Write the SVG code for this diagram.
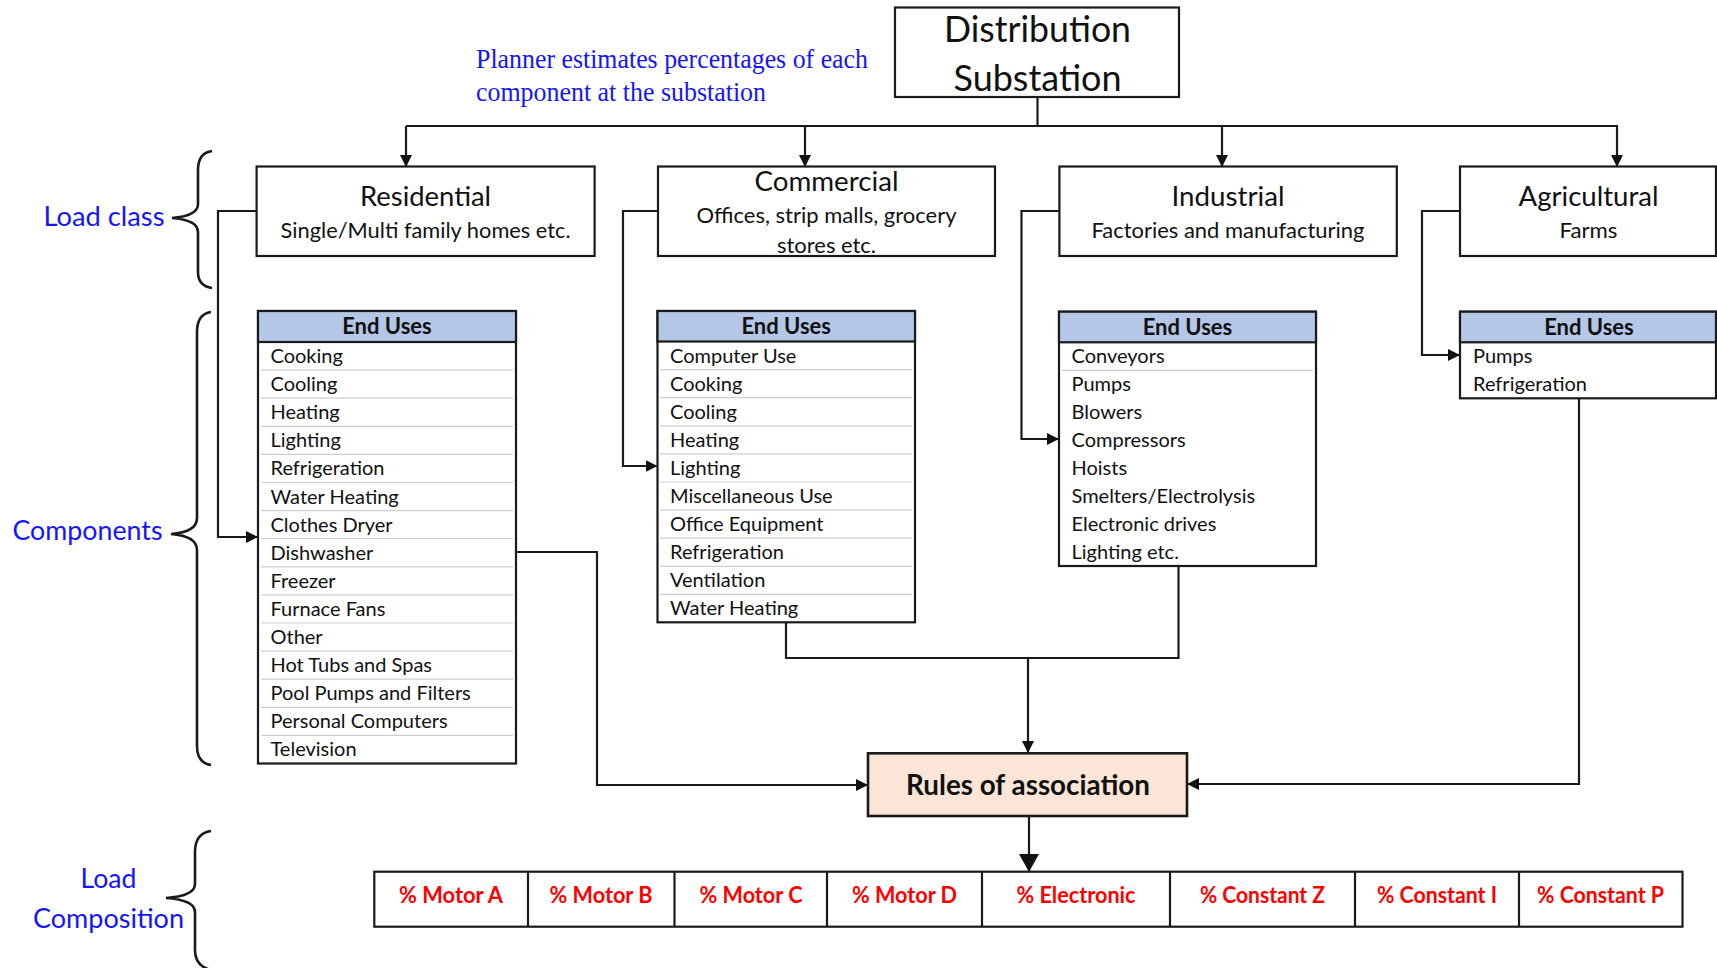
<svg xmlns="http://www.w3.org/2000/svg" width="1717" height="968" viewBox="0 0 1717 968">
<defs>
<style>
.box{fill:#fff;stroke:#1a1a1a;stroke-width:2.2}
.hdr{fill:#b4c7e7;stroke:#1a1a1a;stroke-width:2.2}
.sep{stroke:#cfcfcf;stroke-width:1.2}
.ln{fill:none;stroke:#1a1a1a;stroke-width:2.2}
.brace{fill:none;stroke:#1a1a1a;stroke-width:2.6}
.t{font-family:Lato,"Liberation Sans",sans-serif;fill:#111}
.title{font-size:27px;text-anchor:middle}
.sub{font-size:21px;text-anchor:middle}
.item{font-size:20px}
.head{font-size:22px;font-weight:bold;text-anchor:middle}
.blue{font-family:Lato,"Liberation Sans",sans-serif;fill:#1414ff;font-size:26px}
.red{font-family:Lato,"Liberation Sans",sans-serif;fill:#ff0000;font-size:22px;font-weight:bold;text-anchor:middle}
.serif{font-family:"Liberation Serif",serif;fill:#1414ff;font-size:27px}
</style>
<marker id="arr" markerUnits="userSpaceOnUse" markerWidth="12" markerHeight="12" refX="11" refY="6" orient="auto">
<path d="M0,0 L12,6 L0,12 z" fill="#111"/>
</marker>
<marker id="arrBig" markerUnits="userSpaceOnUse" markerWidth="18" markerHeight="20" refX="17" refY="10" orient="auto">
<path d="M0,0 L18,10 L0,20 z" fill="#111"/>
</marker>
</defs>
<rect width="1717" height="968" fill="#fff"/>

<g id="connectors">
<path class="ln" d="M1037.5,97 V126" stroke-width="2.6"/>
<path class="ln" d="M406,126 H1618" stroke-width="3"/>
<path class="ln" d="M406,126 V166" marker-end="url(#arr)"/>
<path class="ln" d="M805,126 V166" marker-end="url(#arr)"/>
<path class="ln" d="M1222,126 V166" marker-end="url(#arr)"/>
<path class="ln" d="M1617,126 V166" marker-end="url(#arr)"/>
<path class="ln" d="M256.6,211 H218 V537 H257" marker-end="url(#arr)"/>
<path class="ln" d="M658,211 H623 V466 H656.5" marker-end="url(#arr)"/>
<path class="ln" d="M1059,211 H1021.5 V439 H1058" marker-end="url(#arr)"/>
<path class="ln" d="M1460,211 H1422 V355 H1459" marker-end="url(#arr)"/>
<path class="ln" d="M516,552 H597 V785 H867" marker-end="url(#arr)"/>
<path class="ln" d="M786,622 V658 H1178.5 V566"/>
<path class="ln" d="M1028,658 V752" marker-end="url(#arr)"/>
<path class="ln" d="M1579,398 V784 H1188" marker-end="url(#arr)"/>
<path class="ln" d="M1029,816 V871" stroke-width="4.5" marker-end="url(#arrBig)"/>
</g>

<g id="braces">
<path class="brace" d="M212,151 Q198,153 198,170 V204 Q198,216 172,218 Q198,220 198,232 V272 Q198,286 212,288"/>
<path class="brace" d="M211,312 Q197,314 197,332 V518 Q197,532 171,534 Q197,536 197,550 V746 Q197,763 211,765"/>
<path class="brace" d="M211,831 Q195,833 195,852 V884 Q195,896 166,898 Q195,900 195,912 V950 Q195,966 211,970"/>
</g>

<g id="labels">
<text class="serif" x="476" y="68" textLength="392" lengthAdjust="spacingAndGlyphs">Planner estimates percentages of each</text>
<text class="serif" x="476" y="101" textLength="290" lengthAdjust="spacingAndGlyphs">component at the substation</text>
<text class="blue" x="43.5" y="226" textLength="121" lengthAdjust="spacingAndGlyphs">Load class</text>
<text class="blue" x="12.5" y="540" textLength="150" lengthAdjust="spacingAndGlyphs">Components</text>
<text class="blue" x="108.5" y="888" text-anchor="middle" textLength="56" lengthAdjust="spacingAndGlyphs">Load</text>
<text class="blue" x="108.5" y="928" text-anchor="middle" textLength="151" lengthAdjust="spacingAndGlyphs">Composition</text>
</g>

<g id="substation">
<rect class="box" x="895" y="7.5" width="284" height="89.5" stroke-width="2.6"/>
<text class="t" x="1037.5" y="42" font-size="36" text-anchor="middle" textLength="187" lengthAdjust="spacingAndGlyphs">Distribution</text>
<text class="t" x="1037.5" y="91" font-size="36" text-anchor="middle" textLength="168" lengthAdjust="spacingAndGlyphs">Substation</text>
</g>

<g id="residential">
<rect class="box" x="256.6" y="166.5" width="338" height="89.5"/>
<text class="t title" x="425.6" y="205.5" textLength="131" lengthAdjust="spacingAndGlyphs">Residential</text>
<text class="t sub" x="425.6" y="238" textLength="290" lengthAdjust="spacingAndGlyphs">Single/Multi family homes etc.</text>
</g>
<g id="commercial">
<rect class="box" x="658" y="166.5" width="337" height="89.5"/>
<text class="t title" x="826.5" y="191" textLength="144" lengthAdjust="spacingAndGlyphs">Commercial</text>
<text class="t sub" x="826.5" y="223" textLength="260" lengthAdjust="spacingAndGlyphs">Offices, strip malls, grocery</text>
<text class="t sub" x="826.5" y="253" textLength="99" lengthAdjust="spacingAndGlyphs">stores etc.</text>
</g>
<g id="industrial">
<rect class="box" x="1059.4" y="166.5" width="337.4" height="89.5"/>
<text class="t title" x="1228" y="205.5" textLength="113" lengthAdjust="spacingAndGlyphs">Industrial</text>
<text class="t sub" x="1228" y="238" textLength="273" lengthAdjust="spacingAndGlyphs">Factories and manufacturing</text>
</g>
<g id="agricultural">
<rect class="box" x="1460" y="166.5" width="256" height="89.5"/>
<text class="t title" x="1588.5" y="205.5" textLength="140" lengthAdjust="spacingAndGlyphs">Agricultural</text>
<text class="t sub" x="1588.5" y="238" textLength="58" lengthAdjust="spacingAndGlyphs">Farms</text>
</g>

<g id="res-enduses">
<rect class="box" x="258" y="311" width="258" height="452.5"/>
<rect class="hdr" x="258" y="311" width="258" height="31"/>
<text class="t head" x="387" y="334">End Uses</text>
<g class="sep">
<line x1="261" x2="513" y1="370.1" y2="370.1"/><line x1="261" x2="513" y1="398.2" y2="398.2"/>
<line x1="261" x2="513" y1="426.3" y2="426.3"/><line x1="261" x2="513" y1="454.4" y2="454.4"/>
<line x1="261" x2="513" y1="482.5" y2="482.5"/><line x1="261" x2="513" y1="510.6" y2="510.6"/>
<line x1="261" x2="513" y1="538.7" y2="538.7"/><line x1="261" x2="513" y1="566.8" y2="566.8"/>
<line x1="261" x2="513" y1="594.9" y2="594.9"/><line x1="261" x2="513" y1="623" y2="623"/>
<line x1="261" x2="513" y1="651.1" y2="651.1"/><line x1="261" x2="513" y1="679.2" y2="679.2"/>
<line x1="261" x2="513" y1="707.3" y2="707.3"/><line x1="261" x2="513" y1="735.4" y2="735.4"/>
</g>
<g class="t item">
<text x="270.5" y="363">Cooking</text>
<text x="270.5" y="391.1">Cooling</text>
<text x="270.5" y="419.2">Heating</text>
<text x="270.5" y="447.3">Lighting</text>
<text x="270.5" y="475.4">Refrigeration</text>
<text x="270.5" y="503.5">Water Heating</text>
<text x="270.5" y="531.6">Clothes Dryer</text>
<text x="270.5" y="559.7">Dishwasher</text>
<text x="270.5" y="587.8">Freezer</text>
<text x="270.5" y="615.9">Furnace Fans</text>
<text x="270.5" y="644">Other</text>
<text x="270.5" y="672.1">Hot Tubs and Spas</text>
<text x="270.5" y="700.2">Pool Pumps and Filters</text>
<text x="270.5" y="728.3">Personal Computers</text>
<text x="270.5" y="756.4">Television</text>
</g>
</g>

<g id="com-enduses">
<rect class="box" x="657.5" y="311" width="257.5" height="311.3"/>
<rect class="hdr" x="657.5" y="311" width="257.5" height="30.5"/>
<text class="t head" x="786.2" y="334">End Uses</text>
<g class="sep">
<line x1="660" x2="912" y1="369.6" y2="369.6"/><line x1="660" x2="912" y1="397.7" y2="397.7"/>
<line x1="660" x2="912" y1="425.8" y2="425.8"/><line x1="660" x2="912" y1="453.9" y2="453.9"/>
<line x1="660" x2="912" y1="482" y2="482"/><line x1="660" x2="912" y1="510.1" y2="510.1"/>
<line x1="660" x2="912" y1="538.2" y2="538.2"/><line x1="660" x2="912" y1="566.3" y2="566.3"/>
<line x1="660" x2="912" y1="594.4" y2="594.4"/>
</g>
<g class="t item">
<text x="670" y="362.5">Computer Use</text>
<text x="670" y="390.6">Cooking</text>
<text x="670" y="418.7">Cooling</text>
<text x="670" y="446.8">Heating</text>
<text x="670" y="474.9">Lighting</text>
<text x="670" y="503">Miscellaneous Use</text>
<text x="670" y="531.1">Office Equipment</text>
<text x="670" y="559.2">Refrigeration</text>
<text x="670" y="587.3">Ventilation</text>
<text x="670" y="615.4">Water Heating</text>
</g>
</g>

<g id="ind-enduses">
<rect class="box" x="1059" y="311.7" width="257" height="254.3"/>
<rect class="hdr" x="1059" y="311.7" width="257" height="30.6"/>
<text class="t head" x="1187.5" y="335">End Uses</text>
<line class="sep" x1="1062" x2="1313" y1="370.3" y2="370.3" stroke="#e6e6e6"/>
<g class="t item">
<text x="1071.5" y="363.3">Conveyors</text>
<text x="1071.5" y="391.3">Pumps</text>
<text x="1071.5" y="419.3">Blowers</text>
<text x="1071.5" y="447.3">Compressors</text>
<text x="1071.5" y="475.3">Hoists</text>
<text x="1071.5" y="503.3">Smelters/Electrolysis</text>
<text x="1071.5" y="531.3">Electronic drives</text>
<text x="1071.5" y="559.3">Lighting etc.</text>
</g>
</g>

<g id="agr-enduses">
<rect class="box" x="1460" y="311.7" width="256" height="86.6"/>
<rect class="hdr" x="1460" y="311.7" width="256" height="30.6"/>
<text class="t head" x="1589" y="335">End Uses</text>
<g class="t item">
<text x="1473" y="363.3">Pumps</text>
<text x="1473" y="391.3">Refrigeration</text>
</g>
</g>

<g id="rules">
<rect x="868" y="753.3" width="319" height="62.7" fill="#fbe5d6" stroke="#1a1a1a" stroke-width="2.6"/>
<text class="t" x="1028" y="795" font-size="28" font-weight="bold" text-anchor="middle" textLength="244" lengthAdjust="spacingAndGlyphs">Rules of association</text>
</g>

<g id="composition">
<rect class="box" x="374.3" y="871.7" width="1308.2" height="55" stroke-width="2.6"/>
<g class="ln">
<line x1="528" x2="528" y1="871.7" y2="926.7"/>
<line x1="674.5" x2="674.5" y1="871.7" y2="926.7"/>
<line x1="827" x2="827" y1="871.7" y2="926.7"/>
<line x1="982" x2="982" y1="871.7" y2="926.7"/>
<line x1="1170" x2="1170" y1="871.7" y2="926.7"/>
<line x1="1355" x2="1355" y1="871.7" y2="926.7"/>
<line x1="1519" x2="1519" y1="871.7" y2="926.7"/>
</g>
<text class="red" x="451" y="903" textLength="104" lengthAdjust="spacingAndGlyphs">% Motor A</text>
<text class="red" x="601" y="903" textLength="103" lengthAdjust="spacingAndGlyphs">% Motor B</text>
<text class="red" x="751" y="903" textLength="103" lengthAdjust="spacingAndGlyphs">% Motor C</text>
<text class="red" x="904.5" y="903" textLength="105" lengthAdjust="spacingAndGlyphs">% Motor D</text>
<text class="red" x="1076" y="903" textLength="119" lengthAdjust="spacingAndGlyphs">% Electronic</text>
<text class="red" x="1262.5" y="903" textLength="125" lengthAdjust="spacingAndGlyphs">% Constant Z</text>
<text class="red" x="1437" y="903" textLength="120" lengthAdjust="spacingAndGlyphs">% Constant I</text>
<text class="red" x="1600.5" y="903" textLength="127" lengthAdjust="spacingAndGlyphs">% Constant P</text>
</g>
</svg>
